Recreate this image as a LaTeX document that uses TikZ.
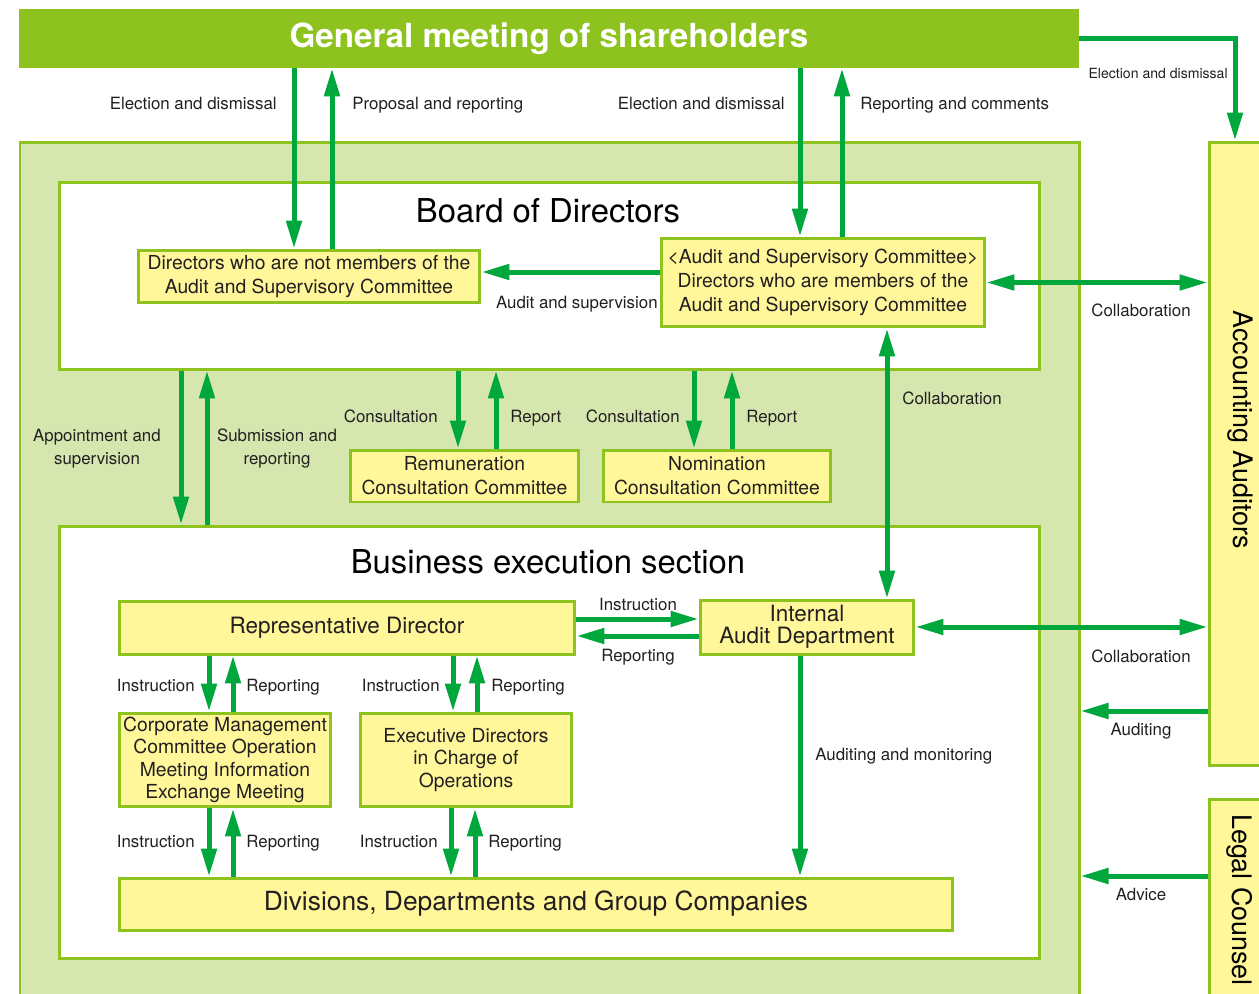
\documentclass[tikz,border=0pt]{standalone}
\usepackage{fontspec}
\setmainfont{TeX Gyre Heros}
\usetikzlibrary{arrows.meta,positioning,fit}
\definecolor{gmgreen}{HTML}{8DC21F}
\definecolor{panelgreen}{HTML}{D5E6AF}
\definecolor{boxyellow}{HTML}{FFF799}
\definecolor{arrgreen}{HTML}{00A73C}
\definecolor{txt}{HTML}{231F20}
\tikzset{
  frame/.style={draw=gmgreen, line width=0.06cm, inner sep=0pt},
  ybox/.style={frame, fill=boxyellow, align=center, text=txt, font=\fontsize{11}{13.6}\selectfont},
  arr/.style={draw=arrgreen, line width=0.1cm, -{Triangle[width=0.3cm,length=0.56cm]}},
  darr/.style={draw=arrgreen, line width=0.1cm, {Triangle[width=0.3cm,length=0.56cm]}-{Triangle[width=0.3cm,length=0.56cm]}},
  lbl/.style={inner sep=0pt, text=txt, align=center, font=\fontsize{9.6}{13}\selectfont, text height=1.55ex, text depth=.3ex},
  title/.style={inner sep=0pt, text=black, font=\fontsize{18.7}{22}\selectfont},
}

\begin{document}
\begin{tikzpicture}[x=0.02cm,y=-0.02cm]%[auto]
\clip (0,0) rectangle (1259,994);

% frames
\node [fill=gmgreen, inner sep=0pt, minimum width=21.2cm, minimum height=1.18cm, text=white, font=\bfseries\fontsize{18.9}{22}\selectfont] (gm) at (549,38.5) {General meeting of shareholders};
\node [frame, fill=panelgreen, fit={(20,142) (1079,1012)}] (panel) {};
\node [frame, fill=white, fit={(59,182) (1039,369)}] (bod) {};
\node [title] (bodT) at (548,211) {Board of Directors};
\node [frame, fill=white, fit={(59,526) (1039,958)}] (bes) {};
\node [title] (besT) at (548,562) {Business execution section};

\node [frame, fill=boxyellow, fit={(1209,142) (1285,765)}] (aud) {};
\node [rotate=-90, inner sep=0pt, font=\fontsize{15.3}{18}\selectfont] (audT) at (1240,430) {Accounting Auditors};
\node [frame, fill=boxyellow, fit={(1209,799) (1285,1012)}] (legal) {};
\node [rotate=-90, inner sep=0pt, font=\fontsize{15.3}{18}\selectfont] (legalT) at (1240,900) {Legal Counsel};

% board of directors
\node [ybox, minimum width=6.84cm, minimum height=1.06cm] (nm) at (309,276.5) {Directors who are not members of the\\Audit and Supervisory Committee};
\node [ybox, minimum width=6.48cm, minimum height=1.78cm] (asc) at (823,282.5) {<Audit and Supervisory Committee>\\Directors who are members of the\\Audit and Supervisory Committee};

% committees
\node [ybox, minimum width=4.58cm, minimum height=1.04cm] (rem) at (464.5,476) {Remuneration\\Consultation Committee};
\node [ybox, minimum width=4.56cm, minimum height=1.04cm] (nom) at (717,476) {Nomination\\Consultation Committee};

% business execution
\node [ybox, minimum width=9.12cm, minimum height=1.06cm, font=\fontsize{12.8}{15}\selectfont] (rd) at (347,627.5) {Representative Director};
\node [ybox, minimum width=4.28cm, minimum height=1.08cm, font=\fontsize{12.8}{12.6}\selectfont] (iad) at (807,627) {Internal\\Audit Department};
\node [ybox, minimum width=4.24cm, minimum height=1.88cm, font=\fontsize{11}{12.7}\selectfont] (cm) at (225,760) {Corporate Management\\Committee Operation\\Meeting Information\\Exchange Meeting};
\node [ybox, minimum width=4.24cm, minimum height=1.88cm, font=\fontsize{11}{12.9}\selectfont] (ed) at (466,760) {Executive Directors\\in Charge of\\Operations};
\node [ybox, minimum width=16.68cm, minimum height=1.04cm, font=\fontsize{15}{18}\selectfont] (div) at (536,904) {Divisions, Departments and Group Companies};

% shareholders
\draw [arr] (294,0 |- gm.south) -- (294,0 |- nm.north);
\draw [arr] (332,0 |- nm.north) -- (332,0 |- gm.south);
\draw [arr] (800,0 |- gm.south) -- (800,0 |- asc.north);
\draw [arr] (842,0 |- asc.north) -- (842,0 |- gm.south);
\draw [arr] (gm.east) -| (1235,0 |- aud.north);
\node [lbl, anchor=east] (l1) at (277,104) {Election and dismissal};
\node [lbl, anchor=west] (l2) at (352,104) {Proposal and reporting};
\node [lbl, anchor=east] (l3) at (785,104) {Election and dismissal};
\node [lbl, anchor=west] (l4) at (860,104) {Reporting and comments};
\node [lbl, anchor=east, font=\fontsize{8}{10}\selectfont] (l5) at (1228,73) {Election and dismissal};

% board
\draw [arr] (asc.west |- 0,272) -- (nm.east |- 0,272);
\node [lbl, anchor=east] (l6) at (658,303) {Audit and supervision};
\draw [darr] (asc.east) -- (aud.west |- asc.east);
\node [lbl] (l7) at (1141,311) {Collaboration};
\draw [darr] (887,0 |- asc.south) -- (887,0 |- iad.north);
\node [lbl, anchor=west] (l8) at (902,399) {Collaboration};

\draw [arr] (181,0 |- bod.south) -- (181,0 |- bes.north);
\draw [arr] (207,0 |- bes.north) -- (207,0 |- bod.south);
\node [lbl] (l9) at (97,459) {Appointment and\\supervision};
\node [lbl] (l10) at (277,459) {Submission and\\reporting};

\draw [arr] (458,0 |- bod.south) -- (458,0 |- rem.north);
\draw [arr] (496,0 |- rem.north) -- (496,0 |- bod.south);
\node [lbl, anchor=east] (l11) at (438,417) {Consultation};
\node [lbl, anchor=west] (l12) at (510,417) {Report};
\draw [arr] (694,0 |- bod.south) -- (694,0 |- nom.north);
\draw [arr] (732,0 |- nom.north) -- (732,0 |- bod.south);
\node [lbl, anchor=east] (l13) at (680,417) {Consultation};
\node [lbl, anchor=west] (l14) at (746,417) {Report};

% execution
\draw [arr] (rd.east |- 0,619) -- (iad.west |- 0,619);
\node [lbl] (l15) at (638,605) {Instruction};
\draw [arr] (iad.west |- 0,636) -- (rd.east |- 0,636);
\node [lbl] (l16) at (638,656) {Reporting};
\draw [darr] (iad.east |- 0,627) -- (aud.west |- 0,627);
\node [lbl] (l17) at (1141,657) {Collaboration};
\draw [arr] (aud.west |- 0,711) -- (panel.east |- 0,711);
\node [lbl] (l18) at (1141,730) {Auditing};
\draw [arr] (legal.west |- 0,876) -- (panel.east |- 0,876);
\node [lbl] (l19) at (1141,895) {Advice};
\draw [arr] (800,0 |- iad.south) -- (800,0 |- div.north);
\node [lbl, anchor=west] (l20) at (815,755) {Auditing and monitoring};

\draw [arr] (209,0 |- rd.south) -- (209,0 |- cm.north);
\draw [arr] (233,0 |- cm.north) -- (233,0 |- rd.south);
\node [lbl, anchor=east] (l21) at (195,686) {Instruction};
\node [lbl, anchor=west] (l22) at (246,686) {Reporting};
\draw [arr] (453,0 |- rd.south) -- (453,0 |- ed.north);
\draw [arr] (477,0 |- ed.north) -- (477,0 |- rd.south);
\node [lbl, anchor=east] (l23) at (440,686) {Instruction};
\node [lbl, anchor=west] (l24) at (491,686) {Reporting};

\draw [arr] (209,0 |- cm.south) -- (209,0 |- div.north);
\draw [arr] (233,0 |- div.north) -- (233,0 |- cm.south);
\node [lbl, anchor=east] (l25) at (195,842) {Instruction};
\node [lbl, anchor=west] (l26) at (246,842) {Reporting};
\draw [arr] (451,0 |- ed.south) -- (451,0 |- div.north);
\draw [arr] (475,0 |- div.north) -- (475,0 |- ed.south);
\node [lbl, anchor=east] (l27) at (438,842) {Instruction};
\node [lbl, anchor=west] (l28) at (488,842) {Reporting};
\end{tikzpicture}
\end{document}
